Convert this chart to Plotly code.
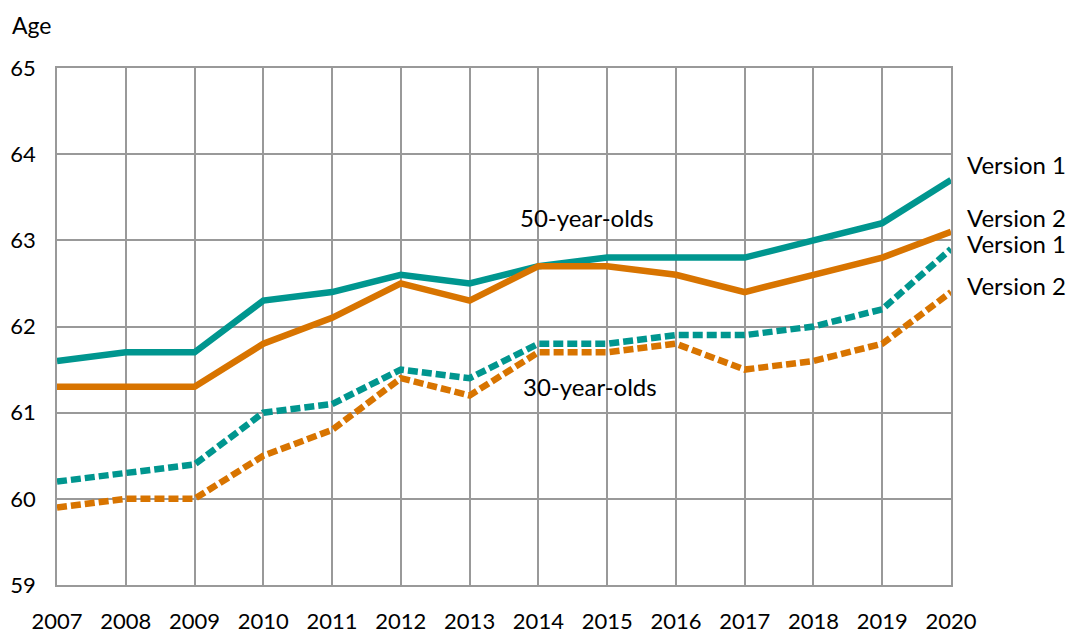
import plotly.graph_objects as go

years = list(range(2007, 2021))
age50_v1 = [61.6, 61.7, 61.7, 62.3, 62.4, 62.6, 62.5, 62.7, 62.8, 62.8, 62.8, 63.0, 63.2, 63.7]
age50_v2 = [61.3, 61.3, 61.3, 61.8, 62.1, 62.5, 62.3, 62.7, 62.7, 62.6, 62.4, 62.6, 62.8, 63.1]
age30_v1 = [60.2, 60.3, 60.4, 61.0, 61.1, 61.5, 61.4, 61.8, 61.8, 61.9, 61.9, 62.0, 62.2, 62.9]
age30_v2 = [59.9, 60.0, 60.0, 60.5, 60.8, 61.4, 61.2, 61.7, 61.7, 61.8, 61.5, 61.6, 61.8, 62.4]

TEAL = "#00968F"
ORANGE = "#D87400"
FONT = "Lato"
TXT = 24
TICK = 22

fig = go.Figure()
series = [
    (age50_v1, TEAL, "solid"),
    (age50_v2, ORANGE, "solid"),
    (age30_v1, TEAL, "10px,4px"),
    (age30_v2, ORANGE, "10px,4px"),
]
for vals, col, dash in series:
    fig.add_trace(go.Scatter(x=years, y=vals, mode="lines",
                             line=dict(color=col, width=6.5, dash=dash),
                             showlegend=False, hoverinfo="skip"))

annots = [
    dict(x=2014.7, y=63.27, text="50-year-olds", xanchor="center"),
    dict(x=2014.75, y=61.3, text="30-year-olds", xanchor="center"),
]
end_labels = [("Version 1", 63.88), ("Version 2", 63.27), ("Version 1", 62.96), ("Version 2", 62.48)]
for t, yv in end_labels:
    annots.append(dict(x=2020, y=yv, text=t, xanchor="left", xshift=15))

for a in annots:
    fig.add_annotation(x=a["x"], y=a["y"], text=a["text"], xanchor=a["xanchor"],
                       yanchor="middle", xshift=a.get("xshift", 0), showarrow=False,
                       borderpad=0, font=dict(family=FONT, size=TXT, color="#000"))

fig.add_annotation(xref="paper", yref="paper", x=-46 / 894, y=1 + 58 / 517,
                   text="Age", showarrow=False, xanchor="left", yanchor="top",
                   borderpad=0, font=dict(family=FONT, size=23, color="#000"))

fig.update_xaxes(range=[2007, 2020], tickmode="array", tickvals=years,
                 ticktext=[str(y) for y in years], showgrid=True,
                 gridcolor="#999999", gridwidth=1.5, showline=True,
                 linecolor="#999999", linewidth=1.5, mirror=True, zeroline=False,
                 ticks="", ticklabelstandoff=16, automargin=False,
                 tickfont=dict(family=FONT, size=TICK, color="#000"))
fig.update_yaxes(range=[59, 65], dtick=1, showgrid=True,
                 gridcolor="#999999", gridwidth=1.5, showline=True,
                 linecolor="#999999", linewidth=1.5, mirror=True, zeroline=False,
                 ticks="", ticklabelstandoff=15, automargin=False,
                 tickfont=dict(family=FONT, size=TICK, color="#000"))

fig.update_layout(width=1070, height=625, plot_bgcolor="white", paper_bgcolor="white",
                  margin=dict(l=49, r=127, t=60, b=48), showlegend=False)

fig.write_html("out.html")
